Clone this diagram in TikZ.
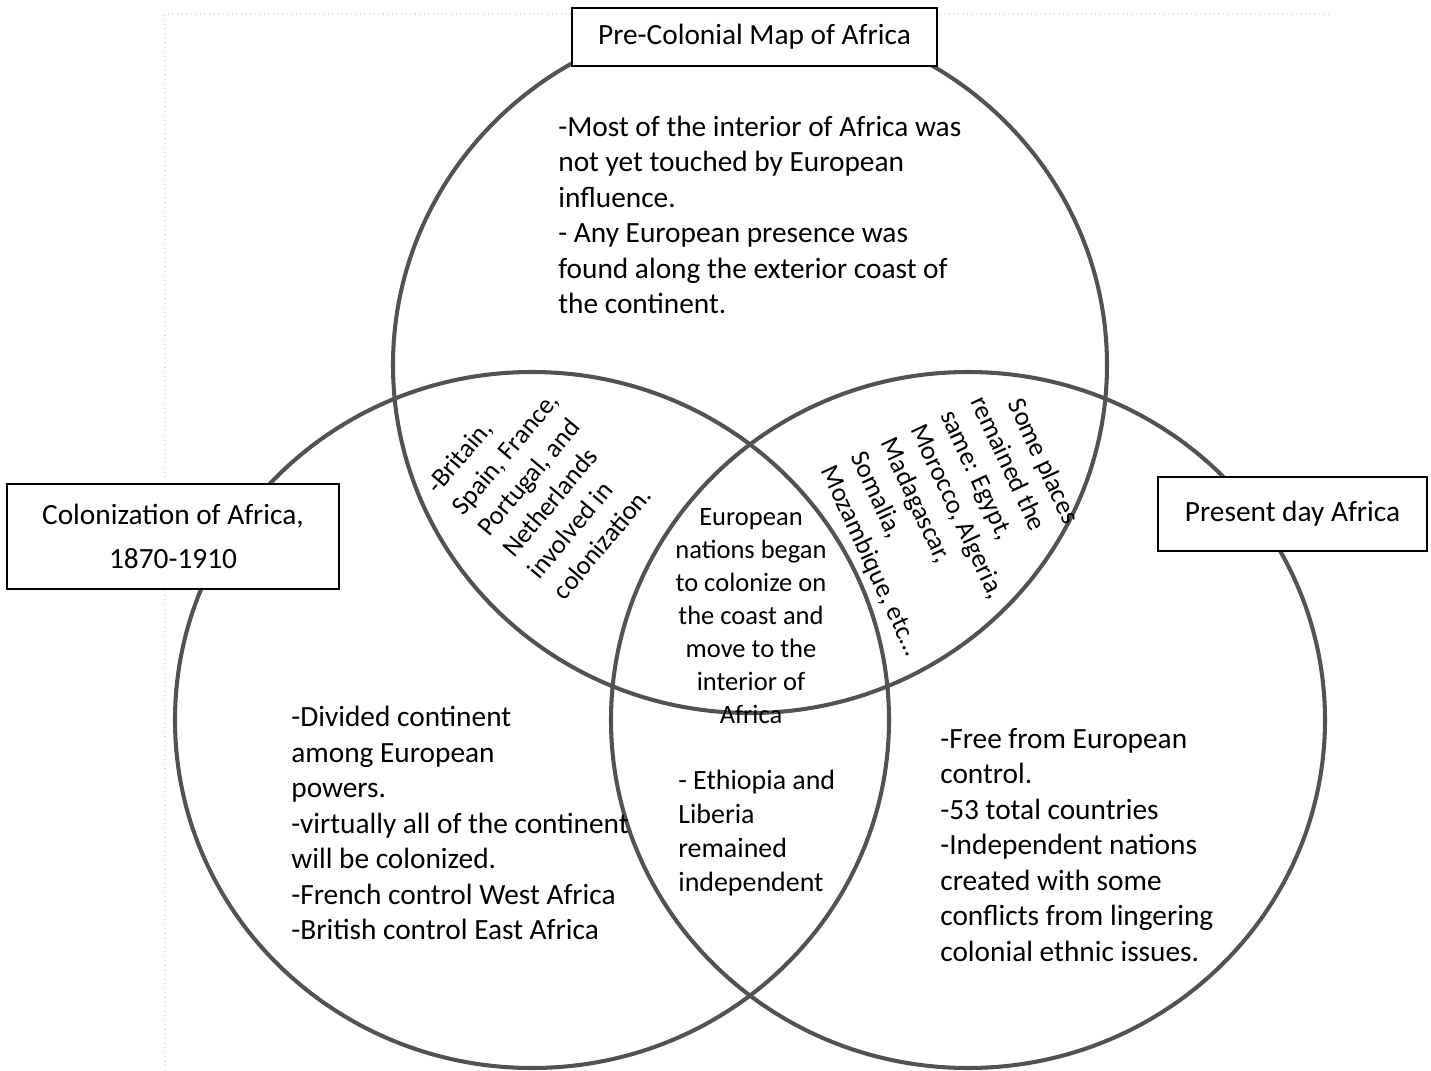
\documentclass[tikz,border=0pt]{standalone}
\usepackage{fontspec}
\setmainfont{Carlito}

\tikzset{
  venn/.style={draw=black!68, line width=2.3pt},
  titlebox/.style={draw=black, line width=1.3pt, fill=white, inner sep=0pt, align=center,
    font=\fontsize{16.7}{25}\selectfont},
  bodytext/.style={inner sep=0pt, align=left, anchor=west,
    font=\fontsize{16.7}{20.2}\selectfont},
  smalltext/.style={inner sep=0pt, font=\fontsize{15.1}{18.8}\selectfont}
}

\begin{document}
\begin{tikzpicture}[x=0.02cm, y=-0.02cm]
      \useasboundingbox (0,0) rectangle (1431,1071);

      % Scan border
      \draw[black!12, dotted, line width=0.6pt] (165,1071) -- (165,14) -- (1330,14);

      % Circle: Pre-colonial
      \draw[venn] (750,365) ellipse [x radius=357, y radius=348];
      % Circle: Colonization
      \draw[venn] (532,720) ellipse [x radius=357, y radius=348];
      % Circle: Present day
      \draw[venn] (968,720) ellipse [x radius=357, y radius=348];

      % Boxes
      \node[titlebox, minimum width=7.3cm, minimum height=1.16cm] (precolonial) at (754.5,37) {Pre-Colonial Map of Africa};
      \node[titlebox, minimum width=6.64cm, minimum height=2.1cm] (colonization) at (173,536.5) {Colonization of Africa,\\1870-1910};
      \node[titlebox, minimum width=5.38cm, minimum height=1.48cm] (presentday) at (1292.5,514) {Present day Africa};

      % Text: one set each
      \node[bodytext] (pretext) at (558,215) {-Most of the interior of Africa was\\not yet touched by European\\influence.\\- Any European presence was\\found along the exterior coast of\\the continent.};
      \node[bodytext] (coltext) at (291,823) {-Divided continent\\among European\\powers.\\-virtually all of the continent\\will be colonized.\\-French control West Africa\\-British control East Africa};
      \node[bodytext] (presenttext) at (940,845) {-Free from European\\control.\\-53 total countries\\-Independent nations\\created with some\\conflicts from lingering\\colonial ethnic issues.};

      % Text: overlaps
      \node[smalltext, align=left, rotate=50] (precol) at (543,485) {-Britain,\\Spain, France,\\Portugal, and\\Netherlands\\involved in\\colonization.};
      \node[smalltext, align=left, rotate=-65] (prepresent) at (960,519) {\hspace{0.7em}Some places\\remained the\\same: Egypt,\\Morocco, Algeria,\\Madagascar,\\Somalia,\\Mozambique, etc\dots};
      \node[smalltext, align=center] (allthree) at (751,616) {European\\ nations began\\to colonize on\\the coast and\\move to the\\interior of\\Africa};
      \node[inner sep=0pt, align=left, anchor=west, font=\fontsize{15.9}{19.4}\selectfont] (colpresent) at (678,833) {- Ethiopia and\\Liberia\\remained\\independent};
\end{tikzpicture}
\end{document}
